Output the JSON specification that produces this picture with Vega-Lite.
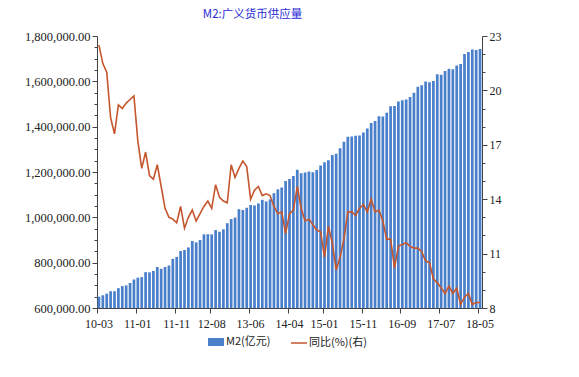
{
  "$schema": "https://vega.github.io/schema/vega-lite/v6.json",
  "width": 385,
  "height": 272,
  "autosize": "none",
  "padding": {"left": 97, "top": 36, "right": 97, "bottom": 69},
  "background": "white",
  "config": {
    "view": {"stroke": null},
    "axis": {
      "labelFont": "Liberation Serif",
      "labelFontSize": 12,
      "labelColor": "#222222",
      "domainColor": "#444444",
      "tickColor": "#444444",
      "grid": false,
      "title": null
    }
  },
  "title": {
    "text": "M2:广义货币供应量",
    "color": "#2b2bd6",
    "font": "Noto Sans CJK SC",
    "fontSize": 11.5,
    "fontWeight": "normal",
    "anchor": "middle",
    "dx": -37,
    "offset": 10
  },
  "data": {
    "values": [
      {"month": "10-03", "m2": 649947, "yoy": 22.5},
      {"month": "10-04", "m2": 656150, "yoy": 21.48},
      {"month": "10-05", "m2": 663351, "yoy": 21.0},
      {"month": "10-06", "m2": 673922, "yoy": 18.5},
      {"month": "10-07", "m2": 674051, "yoy": 17.6},
      {"month": "10-08", "m2": 687507, "yoy": 19.2},
      {"month": "10-09", "m2": 696471, "yoy": 19.0},
      {"month": "10-10", "m2": 699776, "yoy": 19.3},
      {"month": "10-11", "m2": 710339, "yoy": 19.5},
      {"month": "10-12", "m2": 725852, "yoy": 19.7},
      {"month": "11-01", "m2": 733885, "yoy": 17.2},
      {"month": "11-02", "m2": 736131, "yoy": 15.7},
      {"month": "11-03", "m2": 758131, "yoy": 16.6},
      {"month": "11-04", "m2": 757385, "yoy": 15.3},
      {"month": "11-05", "m2": 763410, "yoy": 15.1},
      {"month": "11-06", "m2": 780821, "yoy": 15.9},
      {"month": "11-07", "m2": 772923, "yoy": 14.7},
      {"month": "11-08", "m2": 780853, "yoy": 13.5},
      {"month": "11-09", "m2": 787406, "yoy": 13.0},
      {"month": "11-10", "m2": 816829, "yoy": 12.9},
      {"month": "11-11", "m2": 825494, "yoy": 12.7},
      {"month": "11-12", "m2": 851591, "yoy": 13.6},
      {"month": "12-01", "m2": 855899, "yoy": 12.4},
      {"month": "12-02", "m2": 867171, "yoy": 13.0},
      {"month": "12-03", "m2": 895566, "yoy": 13.4},
      {"month": "12-04", "m2": 889605, "yoy": 12.8},
      {"month": "12-05", "m2": 900049, "yoy": 13.2},
      {"month": "12-06", "m2": 924992, "yoy": 13.6},
      {"month": "12-07", "m2": 925375, "yoy": 13.9},
      {"month": "12-08", "m2": 924894, "yoy": 13.5},
      {"month": "12-09", "m2": 943688, "yoy": 14.8},
      {"month": "12-10", "m2": 936405, "yoy": 14.1},
      {"month": "12-11", "m2": 947045, "yoy": 13.9},
      {"month": "12-12", "m2": 974149, "yoy": 13.8},
      {"month": "13-01", "m2": 992129, "yoy": 15.9},
      {"month": "13-02", "m2": 998601, "yoy": 15.2},
      {"month": "13-03", "m2": 1035859, "yoy": 15.7},
      {"month": "13-04", "m2": 1032552, "yoy": 16.1},
      {"month": "13-05", "m2": 1042169, "yoy": 15.8},
      {"month": "13-06", "m2": 1054404, "yoy": 14.0},
      {"month": "13-07", "m2": 1052213, "yoy": 14.5},
      {"month": "13-08", "m2": 1061257, "yoy": 14.7},
      {"month": "13-09", "m2": 1077379, "yoy": 14.2},
      {"month": "13-10", "m2": 1070243, "yoy": 14.3},
      {"month": "13-11", "m2": 1079258, "yoy": 14.2},
      {"month": "13-12", "m2": 1106525, "yoy": 13.6},
      {"month": "14-01", "m2": 1123521, "yoy": 13.2},
      {"month": "14-02", "m2": 1131761, "yoy": 13.3},
      {"month": "14-03", "m2": 1160687, "yoy": 12.1},
      {"month": "14-04", "m2": 1168813, "yoy": 13.2},
      {"month": "14-05", "m2": 1182101, "yoy": 13.4},
      {"month": "14-06", "m2": 1209588, "yoy": 14.7},
      {"month": "14-07", "m2": 1194249, "yoy": 13.5},
      {"month": "14-08", "m2": 1197499, "yoy": 12.8},
      {"month": "14-09", "m2": 1202052, "yoy": 12.9},
      {"month": "14-10", "m2": 1199237, "yoy": 12.6},
      {"month": "14-11", "m2": 1208607, "yoy": 12.3},
      {"month": "14-12", "m2": 1228375, "yoy": 12.2},
      {"month": "15-01", "m2": 1242710, "yoy": 10.8},
      {"month": "15-02", "m2": 1252328, "yoy": 12.5},
      {"month": "15-03", "m2": 1275333, "yoy": 11.6},
      {"month": "15-04", "m2": 1280200, "yoy": 10.1},
      {"month": "15-05", "m2": 1305300, "yoy": 10.8},
      {"month": "15-06", "m2": 1333400, "yoy": 11.8},
      {"month": "15-07", "m2": 1355600, "yoy": 13.3},
      {"month": "15-08", "m2": 1356900, "yoy": 13.3},
      {"month": "15-09", "m2": 1359800, "yoy": 13.1},
      {"month": "15-10", "m2": 1361000, "yoy": 13.5},
      {"month": "15-11", "m2": 1374000, "yoy": 13.7},
      {"month": "15-12", "m2": 1392300, "yoy": 13.3},
      {"month": "16-01", "m2": 1416300, "yoy": 14.0},
      {"month": "16-02", "m2": 1424600, "yoy": 13.3},
      {"month": "16-03", "m2": 1446200, "yoy": 13.4},
      {"month": "16-04", "m2": 1445200, "yoy": 12.8},
      {"month": "16-05", "m2": 1461700, "yoy": 11.8},
      {"month": "16-06", "m2": 1490500, "yoy": 11.8},
      {"month": "16-07", "m2": 1491600, "yoy": 10.2},
      {"month": "16-08", "m2": 1511000, "yoy": 11.4},
      {"month": "16-09", "m2": 1516400, "yoy": 11.5},
      {"month": "16-10", "m2": 1519500, "yoy": 11.6},
      {"month": "16-11", "m2": 1530400, "yoy": 11.4},
      {"month": "16-12", "m2": 1550100, "yoy": 11.3},
      {"month": "17-01", "m2": 1575900, "yoy": 11.3},
      {"month": "17-02", "m2": 1582900, "yoy": 11.1},
      {"month": "17-03", "m2": 1599600, "yoy": 10.6},
      {"month": "17-04", "m2": 1596300, "yoy": 10.5},
      {"month": "17-05", "m2": 1601400, "yoy": 9.6},
      {"month": "17-06", "m2": 1631300, "yoy": 9.4},
      {"month": "17-07", "m2": 1629000, "yoy": 9.1},
      {"month": "17-08", "m2": 1645200, "yoy": 8.8},
      {"month": "17-09", "m2": 1655700, "yoy": 9.2},
      {"month": "17-10", "m2": 1653400, "yoy": 8.8},
      {"month": "17-11", "m2": 1670000, "yoy": 9.1},
      {"month": "17-12", "m2": 1676800, "yoy": 8.2},
      {"month": "18-01", "m2": 1720800, "yoy": 8.6},
      {"month": "18-02", "m2": 1729100, "yoy": 8.8},
      {"month": "18-03", "m2": 1739900, "yoy": 8.2},
      {"month": "18-04", "m2": 1737700, "yoy": 8.3},
      {"month": "18-05", "m2": 1743100, "yoy": 8.3}
    ]
  },
  "encoding": {
    "x": {
      "field": "month",
      "type": "ordinal",
      "sort": null,
      "scale": {"paddingInner": 0.3, "paddingOuter": 0.15},
      "axis": {
        "values": ["10-03", "11-01", "11-11", "12-08", "13-06", "14-04", "15-01", "15-11", "16-09", "17-07", "18-05"],
        "bandPosition": 0,
        "labelAngle": 0,
        "tickSize": 5,
        "labelPadding": 5
      }
    }
  },
  "layer": [
    {
      "mark": {"type": "bar", "clip": true},
      "encoding": {
        "y": {
          "field": "m2",
          "type": "quantitative",
          "scale": {"domain": [600000, 1800000], "zero": false, "nice": false},
          "axis": {
            "orient": "left",
            "values": [600000, 800000, 1000000, 1200000, 1400000, 1600000, 1800000],
            "format": ",.2f",
            "labelFontSize": 12.5,
            "tickSize": 5,
            "labelPadding": 2
          }
        },
        "fill": {
          "datum": "M2(亿元)",
          "type": "nominal",
          "scale": {"range": ["#4a7fcb"]},
          "legend": {
            "orient": "none",
            "legendX": 111,
            "legendY": 298,
            "title": null,
            "symbolType": "M-1,-0.5H1V0.5H-1Z",
            "symbolSize": 256,
            "symbolStrokeWidth": 0,
            "labelFont": "Noto Sans CJK SC",
            "labelFontSize": 11,
            "labelColor": "#222222",
            "labelOffset": 2
          }
        }
      }
    },
    {
      "mark": {"type": "bar", "opacity": 0},
      "encoding": {
        "y": {
          "field": "m2",
          "type": "quantitative",
          "scale": {"domain": [600000, 1800000], "zero": false, "nice": false},
          "axis": {
            "orient": "left",
            "values": [650000, 700000, 750000, 850000, 900000, 950000, 1050000, 1100000, 1150000, 1250000, 1300000, 1350000, 1450000, 1500000, 1550000, 1650000, 1700000, 1750000],
            "labels": false,
            "domain": false,
            "tickSize": 3
          }
        }
      }
    },
    {
      "mark": {"type": "line", "strokeWidth": 1.6},
      "encoding": {
        "y": {
          "field": "yoy",
          "type": "quantitative",
          "scale": {"domain": [8, 23], "zero": false, "nice": false},
          "axis": {
            "orient": "right",
            "values": [8, 11, 14, 17, 20, 23],
            "format": "d",
            "tickSize": 5,
            "labelPadding": 2
          }
        },
        "stroke": {
          "datum": "同比(%)(右)",
          "type": "nominal",
          "scale": {"range": ["#c5552c"]},
          "legend": {
            "orient": "none",
            "legendX": 193,
            "legendY": 298,
            "title": null,
            "symbolType": "stroke",
            "symbolSize": 256,
            "symbolStrokeWidth": 1.5,
            "labelFont": "Noto Sans CJK SC",
            "labelFontSize": 11,
            "labelColor": "#222222",
            "labelOffset": 1
          }
        }
      }
    },
    {
      "mark": {"type": "line", "opacity": 0},
      "encoding": {
        "y": {
          "field": "yoy",
          "type": "quantitative",
          "scale": {"domain": [8, 23], "zero": false, "nice": false},
          "axis": {
            "orient": "right",
            "values": [9, 10, 12, 13, 15, 16, 18, 19, 21, 22],
            "labels": false,
            "domain": false,
            "tickSize": 3
          }
        }
      }
    }
  ],
  "resolve": {"scale": {"y": "independent"}}
}
